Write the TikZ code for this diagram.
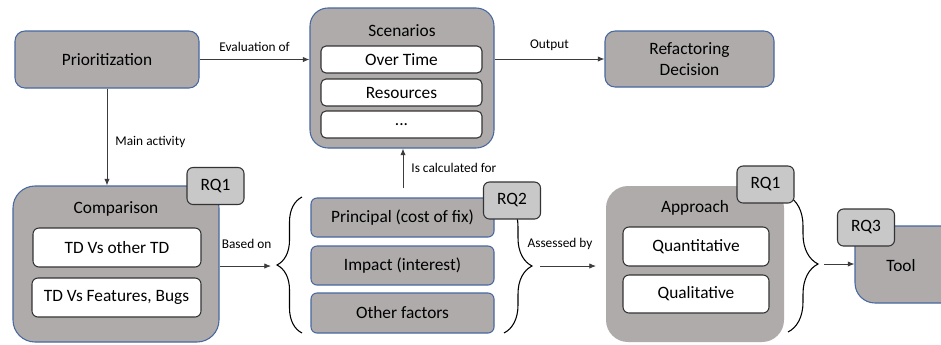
\documentclass[tikz,border=0pt]{standalone}
\usepackage{fontspec}
\setmainfont{Carlito}
\usetikzlibrary{arrows.meta,decorations.pathreplacing}
\definecolor{boxgray}{RGB}{175,171,171}
\definecolor{rqgray}{RGB}{200,200,200}
\definecolor{boxblue}{RGB}{72,104,160}
\definecolor{linegray}{RGB}{60,60,60}
\tikzset{
  mainbox/.style={draw=boxblue, line width=0.8pt, fill=boxgray, rounded corners=#1, inner sep=0pt, font=\fontsize{13}{15.75}\selectfont, align=center},
  mainbox/.default=7.5pt,
  innerbox/.style={draw=black!80, line width=0.8pt, fill=white, rounded corners=3.75pt, inner sep=0pt, font=\fontsize{13}{15}\selectfont},
  rqbox/.style={draw=black!80, line width=0.8pt, fill=rqgray, rounded corners=4.5pt, inner sep=0pt, minimum width=42.75pt, minimum height=27.75pt, font=\fontsize{13}{15}\selectfont},
  titletext/.style={font=\fontsize{13}{15}\selectfont, inner sep=0pt},
  lbl/.style={font=\fontsize{10}{12}\selectfont, inner sep=0pt},
  conn/.style={draw=linegray, line width=0.6pt, -{Latex[length=5pt,width=4pt]}},
  bracestyle/.style={draw=black, line width=0.8pt, decorate, decoration={brace, amplitude=#1}},
}
\begin{document}
\begin{tikzpicture}[x=0.75pt,y=-0.75pt]
\useasboundingbox (0,0) rectangle (941,344);
\fill[white] (0,0) rectangle (941,344);

% top row
\node[mainbox, minimum width=138pt, minimum height=42.75pt] (prio) at (107,59.5) {Prioritization};
\node[mainbox=13.5pt, minimum width=138pt, minimum height=105pt] (scen) at (402,78) {};
\node[titletext] (scentitle) at (402,31) {Scenarios};
\node[innerbox, minimum width=120.75pt, minimum height=20.25pt] (over) at (401.5,59.5) {Over Time};
\node[innerbox, minimum width=120.75pt, minimum height=20.25pt] (res) at (401.5,92.5) {Resources};
\node[innerbox, minimum width=120.75pt, minimum height=20.25pt] (dots) at (401.5,124.5) {...};
\node[mainbox, minimum width=126.75pt, minimum height=42pt] (refac) at (689.5,59) {Refactoring\\Decision};

% comparison
\node[mainbox=16.5pt, minimum width=154.5pt, minimum height=117pt] (comp) at (116,264) {};
\node[titletext] (comptitle) at (116,209) {Comparison};
\node[innerbox, rounded corners=4.5pt, minimum width=126pt, minimum height=29.25pt] (tdtd) at (117,247.5) {TD Vs other TD};
\node[innerbox, rounded corners=4.5pt, minimum width=126.75pt, minimum height=29.25pt] (tdfb) at (116.5,297.5) {TD Vs Features, Bugs};
\node[rqbox] (rq1a) at (215.5,186) {RQ1};

% factors
\draw[bracestyle=18.75pt] (302,333) -- (302,197);
\draw[bracestyle=21pt] (504,199) -- (504,333);
\node[mainbox, rounded corners=4.5pt, minimum width=137.25pt, minimum height=29.25pt] (princ) at (402.5,217.5) {Principal (cost of fix)};
\node[mainbox, rounded corners=4.5pt, minimum width=137.25pt, minimum height=29.25pt] (impact) at (402.5,265.5) {Impact (interest)};
\node[mainbox, rounded corners=4.5pt, minimum width=137.25pt, minimum height=30pt] (other) at (402.5,313) {Other factors};
\node[rqbox] (rq2) at (512,200.5) {RQ2};

% approach
\draw[bracestyle=22.5pt] (788,196) -- (788,332);
\node[fill=boxgray, rounded corners=16.5pt, minimum width=133.5pt, minimum height=117pt, inner sep=0pt] (appr) at (695,264) {};
\node[titletext] (apprtitle) at (695,208) {Approach};
\node[innerbox, rounded corners=4.5pt, minimum width=109.5pt, minimum height=29.25pt] (quant) at (696,246.5) {Quantitative};
\node[innerbox, rounded corners=4.5pt, minimum width=109.5pt, minimum height=28.5pt] (qual) at (696,294) {Qualitative};
\node[rqbox] (rq1b) at (765.5,184.5) {RQ1};

% tool
\begin{scope}
\clip (0,0) rectangle (941,344);
\node[mainbox=15pt, minimum width=90pt, minimum height=57.75pt] (tool) at (915,264.5) {};
\end{scope}
\node[titletext] (tooltext) at (901,266) {Tool};
\node[rqbox] (rq3) at (866,227.5) {RQ3};

% coordinates for free ends
\coordinate (b1) at (271,266);
\coordinate (calc) at (403,188);
\coordinate (b2s) at (540,266);
\coordinate (b2e) at (596,266);
\coordinate (b3s) at (824,264);

% connectors
\draw[conn] (prio.east) -- (scen.west |- prio.east) node[lbl, midway, above=6pt] {Evaluation of};
\draw[conn] (scen.east |- refac.west) -- (refac.west) node[lbl, midway, above=6pt] {Output};
\draw[conn] (prio.south) -- (prio.south |- comp.north) node[lbl, pos=0.55, right=6pt] {Main activity};
\draw[conn] (calc) -- (calc |- scen.south) node[lbl, pos=0.5, right=6pt] {Is calculated for};
\draw[conn] (comp.east |- b1) -- (b1) node[lbl, midway, above=13pt, xshift=1pt] {Based on};
\draw[conn] (b2s) -- (b2e) node[lbl, midway, above=12pt, xshift=-6pt] {Assessed by};
\draw[conn] (b3s) -- (tool.west |- b3s);
\end{tikzpicture}
\end{document}
